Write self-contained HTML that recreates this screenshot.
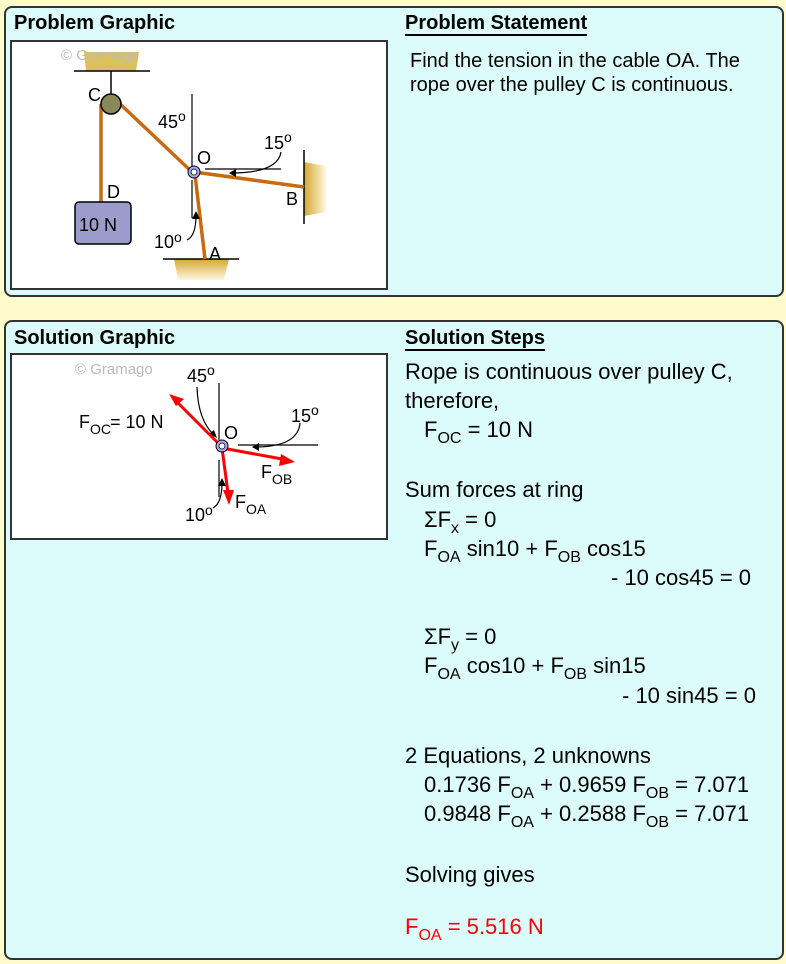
<!DOCTYPE html>
<html><head><meta charset="utf-8"><style>
body{margin:0;width:786px;height:964px;background:#fffbcc;position:relative;font-family:"Liberation Sans",Arial,sans-serif;overflow:hidden}
.panel{position:absolute;left:4px;width:776px;background:#dcfcfc;border:2px solid #333;border-radius:8px}
.h{position:absolute;font-weight:bold;font-size:20px;color:#000}
.u{border-bottom:2px solid #000;padding-bottom:0px}
.t{position:absolute;font-size:22px;color:#000;white-space:nowrap}
sub{font-size:16px;vertical-align:-6px;line-height:0}
.box{position:absolute;background:#fff;border:2px solid #333}
</style></head><body>
<div class="panel" style="top:6px;height:287px"></div>
<div class="panel" style="top:320px;height:636px"></div>
<div class="h" style="left:14px;top:12px">Problem Graphic</div>
<div class="h" style="left:405px;top:12px"><span class="u">Problem Statement</span></div>
<div class="t" style="left:410px;top:49px;font-size:20px;line-height:24px">Find the tension in the cable OA. The<br>rope over the pulley C is continuous.</div>
<div class="h" style="left:14px;top:327px">Solution Graphic</div>
<div class="h" style="left:405px;top:327px"><span class="u">Solution Steps</span></div>

<div class="box" style="left:10px;top:40px;width:374px;height:246px"></div>
<svg style="position:absolute;left:0;top:0" width="786" height="964">
<defs>
<linearGradient id="gv" x1="0" y1="0" x2="0" y2="1"><stop offset="0" stop-color="#d4a830"/><stop offset="1" stop-color="#fff8e0"/></linearGradient>
<linearGradient id="gh" x1="0" y1="0" x2="1" y2="0"><stop offset="0" stop-color="#d4a830"/><stop offset="1" stop-color="#fff8e0"/></linearGradient>
</defs>
<polygon points="84,52 139,52 136,71 86,71" fill="#dcc060"/>
<line x1="74" y1="71" x2="150" y2="71" stroke="#000" stroke-width="1.5"/>
<line x1="111" y1="71" x2="111" y2="96" stroke="#000" stroke-width="1.5"/>
<text x="61" y="60" font-size="15" fill="#bbb" font-family="Liberation Sans">© Gramago</text>
<polygon points="174,259 229,259 224,280 178,280" fill="url(#gv)"/>
<line x1="163" y1="259" x2="239" y2="259" stroke="#000" stroke-width="1.5"/>
<polygon points="304,162 326,166 326,212 304,216" fill="url(#gh)"/>
<line x1="304" y1="150" x2="304" y2="224" stroke="#000" stroke-width="1.5"/>
<line x1="192" y1="94" x2="192" y2="172" stroke="#000" stroke-width="1.2"/>
<line x1="192" y1="180" x2="192" y2="218" stroke="#000" stroke-width="1.2"/>
<line x1="205" y1="169" x2="281" y2="169" stroke="#000" stroke-width="1.2"/>
<g stroke="#c86a10" stroke-width="3.5" fill="none">
<line x1="101" y1="104" x2="101" y2="203"/>
<line x1="118" y1="102" x2="192" y2="172"/>
<line x1="194" y1="172" x2="304" y2="187"/>
<line x1="195" y1="175" x2="205" y2="259"/>
</g>
<circle cx="111" cy="104" r="10" fill="#8a8a58" stroke="#000" stroke-width="1.5"/>
<circle cx="194" cy="172" r="6" fill="#a8a8ff" stroke="#000" stroke-width="1"/>
<circle cx="194" cy="172" r="3" fill="#fff" stroke="#000" stroke-width="0.8"/>
<rect x="75" y="202" width="56" height="42" rx="4" fill="#9c9ccc" stroke="#000" stroke-width="1.5"/>
<path d="M281,152 Q278,172 235,173" stroke="#000" fill="none" stroke-width="1.2"/>
<polygon points="229,173 236,169 236,177" fill="#000"/>
<path d="M187,240 Q196,236 196,215" stroke="#000" fill="none" stroke-width="1.2"/>
<polygon points="196,211 192,219 200,219" fill="#000"/>
<g font-family="Liberation Sans" font-size="18" fill="#000">
<text x="88" y="101">C</text><text x="107" y="198">D</text><text x="79" y="231">10 N</text>
<text x="158" y="128">45</text><text x="178" y="121" font-size="14">o</text>
<text x="197" y="164">O</text>
<text x="264" y="149">15</text><text x="284" y="142" font-size="14">o</text>
<text x="286" y="205">B</text>
<text x="154" y="248">10</text><text x="174" y="242" font-size="14">o</text>
<text x="209" y="260">A</text>
</g>
</svg>

<div class="box" style="left:10px;top:353px;width:374px;height:183px"></div>
<svg style="position:absolute;left:0;top:0" width="786" height="964">
<text x="75" y="374" font-size="15" fill="#bbb" font-family="Liberation Sans">© Gramago</text>
<line x1="219" y1="383" x2="219" y2="440" stroke="#000" stroke-width="1.2"/>
<line x1="219" y1="460" x2="219" y2="497" stroke="#000" stroke-width="1.2"/>
<line x1="238" y1="445" x2="318" y2="445" stroke="#000" stroke-width="1.2"/>
<path d="M197,387 Q198,420 214,435" stroke="#000" fill="none" stroke-width="1.2"/>
<polygon points="217,438 209,434 214,430" fill="#000"/>
<path d="M300,423 Q298,446 258,447" stroke="#000" fill="none" stroke-width="1.2"/>
<polygon points="252,447 259,443 259,451" fill="#000"/>
<path d="M213,508 Q222,503 222,483" stroke="#000" fill="none" stroke-width="1.2"/>
<polygon points="222,478 218,486 226,486" fill="#000"/>
<g stroke="red" stroke-width="3">
<line x1="221" y1="446" x2="176" y2="401"/>
<line x1="222" y1="448" x2="282" y2="459"/>
<line x1="222" y1="448" x2="228" y2="493"/>
</g>
<polygon points="169,394 184,399 176,406" fill="red"/>
<polygon points="295,462 281,454 279,466" fill="red"/>
<polygon points="229,505 223,490 234,490" fill="red"/>
<circle cx="222" cy="446" r="6" fill="#a8a8ff" stroke="#000" stroke-width="1"/>
<circle cx="222" cy="446" r="3" fill="#fff" stroke="#000" stroke-width="0.8"/>
<g font-family="Liberation Sans" font-size="18" fill="#000">
<text x="187" y="382">45</text><text x="207" y="375" font-size="14">o</text>
<text x="79" y="428">F</text><text x="90" y="434" font-size="14">OC</text><text x="110" y="428"> = 10 N</text>
<text x="224" y="439">O</text>
<text x="291" y="422">15</text><text x="311" y="415" font-size="14">o</text>
<text x="261" y="478">F</text><text x="272" y="484" font-size="14">OB</text>
<text x="185" y="521">10</text><text x="205" y="515" font-size="14">o</text>
<text x="235" y="508">F</text><text x="246" y="514" font-size="14">OA</text>
</g>
</svg>

<div class="t" style="left:405px;top:359px">Rope is continuous over pulley C,</div>
<div class="t" style="left:405px;top:388px">therefore,</div>
<div class="t" style="left:424px;top:417px">F<sub>OC</sub> = 10 N</div>
<div class="t" style="left:405px;top:477px">Sum forces at ring</div>
<div class="t" style="left:424px;top:507px">ΣF<sub>x</sub> = 0</div>
<div class="t" style="left:424px;top:536px">F<sub>OA</sub> sin10 + F<sub>OB</sub> cos15</div>
<div class="t" style="left:611px;top:565px">- 10 cos45 = 0</div>
<div class="t" style="left:424px;top:624px">ΣF<sub>y</sub> = 0</div>
<div class="t" style="left:424px;top:653px">F<sub>OA</sub> cos10 + F<sub>OB</sub> sin15</div>
<div class="t" style="left:622px;top:683px">- 10 sin45 = 0</div>
<div class="t" style="left:405px;top:743px">2 Equations, 2 unknowns</div>
<div class="t" style="left:424px;top:772px">0.1736 F<sub>OA</sub> + 0.9659 F<sub>OB</sub> = 7.071</div>
<div class="t" style="left:424px;top:801px">0.9848 F<sub>OA</sub> + 0.2588 F<sub>OB</sub> = 7.071</div>
<div class="t" style="left:405px;top:862px">Solving gives</div>
<div class="t" style="left:405px;top:914px;color:#f00">F<sub>OA</sub> = 5.516 N</div>
</body></html>
